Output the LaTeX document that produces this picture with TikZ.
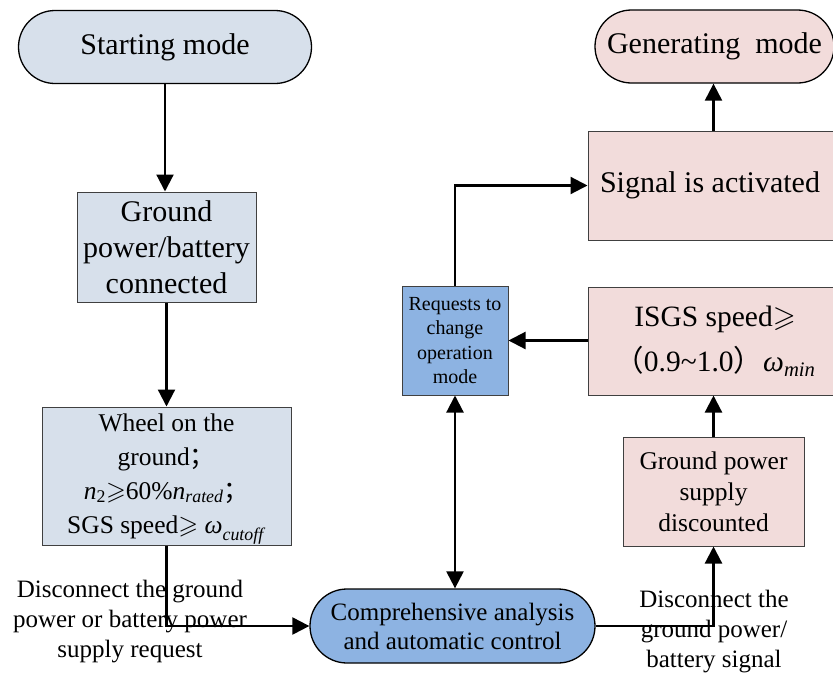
\documentclass[tikz,border=0pt]{standalone}
\usepackage{fontspec}
\usepackage{amssymb}
\setmainfont{Liberation Serif}
\newfontfamily\cjk{Noto Sans CJK SC}
\usetikzlibrary{arrows.meta,shapes.misc}
\definecolor{grayblue}{HTML}{D7E0EB}
\definecolor{midblue}{HTML}{8DB3E2}
\definecolor{pinkish}{HTML}{F2DCDB}
\definecolor{boxedge}{HTML}{404040}
\tikzset{
  stadium/.style={rounded rectangle, draw=black, line width=1.3pt, inner sep=0pt, align=center},
  rbox/.style={rectangle, draw=boxedge, line width=1pt, inner sep=0pt, align=center},
  arr/.style={line width=2.2pt, -{Triangle[width=17pt,length=17pt]}},
  dblarr/.style={line width=2.2pt, {Triangle[width=17pt,length=17pt]}-{Triangle[width=17pt,length=17pt]}},
  con/.style={line width=2.2pt},
  big/.style={font=\fontsize{30}{36}\selectfont},
  mid/.style={font=\fontsize{25.5}{31}\selectfont},
  wheelfont/.style={font=\fontsize{25.5}{34}\selectfont},
  lbl/.style={font=\fontsize{25}{30}\selectfont, align=center, inner sep=0pt},
  small/.style={font=\fontsize{20}{24.5}\selectfont},
}
\begin{document}
\begin{tikzpicture}[x=1pt,y=-1pt]
\useasboundingbox (0,0) rectangle (833,673);
\clip (0,0) rectangle (833,673);
% nodes
\node[stadium, fill=grayblue, big, minimum width=293pt, minimum height=73pt] (start) at (165,47) {Starting mode};
\node[rbox, fill=grayblue, big, minimum width=179pt, minimum height=110pt] (ground) at (166.5,247) {Ground\\power/battery\\connected};
\node[rbox, fill=grayblue, wheelfont, minimum width=249pt, minimum height=138pt] (wheel) at (166.5,476) {Wheel on the\\ground{\cjk ；}\\\textit{n}\textsubscript{2}$\geqslant$60\%\textit{n}\textsubscript{\textit{rated}}{\cjk ；}\\SGS speed$\geqslant$ \textit{ω}\raisebox{-0.3ex}[0pt][0pt]{\textsubscript{\textit{cutoff}}}};
\node[stadium, fill=midblue, font=\fontsize{25}{29}\selectfont, minimum width=285pt, minimum height=74pt] (comp) at (452.5,626) {Comprehensive analysis\\and automatic control};
\node[rbox, fill=midblue, small, minimum width=106pt, minimum height=109pt] (req) at (455,340.5) {Requests to\\change\\operation\\mode};
\node[rbox, fill=pinkish, font=\fontsize{29.5}{45}\selectfont, minimum width=254pt, minimum height=108pt] (isgs) at (715,341) {ISGS speed$\geqslant$\\{\cjk （}0.9\textasciitilde1.0{\cjk ）}\textit{ω}\textsubscript{\textit{min}}};
\node[rbox, fill=pinkish, big, minimum width=254pt, minimum height=109pt] (signal) at (715,185.5) {Signal is activated\hspace*{10pt}};
\node[stadium, fill=pinkish, big, minimum width=239pt, minimum height=73pt] (gen) at (714.5,46.5) {Generating\ \ mode};
\node[rbox, fill=pinkish, mid, minimum width=181pt, minimum height=109pt] (gpsd) at (713.5,491.5) {Ground power\\supply\\discounted};
% connectors
\draw[arr] (start.south) -- (start.south |- ground.north);
\draw[arr] (ground.south) -- (ground.south |- wheel.north);
\draw[arr] (wheel.south) -- (wheel.south |- comp.west) -- (comp.west);
\draw[arr] (comp.east) -- (gpsd.south |- comp.east) -- (gpsd.south);
\draw[arr] (gpsd.north) -- (gpsd.north |- isgs.south);
\draw[arr] (isgs.west |- req.east) -- (req.east);
\draw[arr] (req.north) -- (req.north |- signal.west) -- (signal.west);
\draw[arr] (signal.north -| gpsd.north) -- (gen.south -| gpsd.north);
\draw[dblarr] (req.south) -- (req.south |- comp.north);
% labels
\node[lbl] (lblL) at (130,622) {Disconnect the ground\\power or battery power\\supply request};
\node[lbl] (lblR) at (714,632) {Disconnect the\\ground power/\\battery signal};
\end{tikzpicture}
\end{document}
